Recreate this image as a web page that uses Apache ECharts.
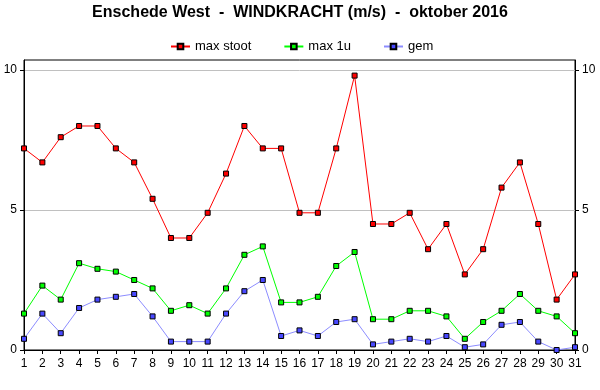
<!DOCTYPE html>
<html><head><meta charset="utf-8">
<script src="https://cdn.jsdelivr.net/npm/echarts@6/dist/echarts.min.js"></script>
<style>html,body{margin:0;padding:0;background:#fff}#c{width:600px;height:390px}</style>
</head><body><div id="c"></div>
<script>
var days = ["1","2","3","4","5","6","7","8","9","10","11","12","13","14","15","16","17","18","19","20","21","22","23","24","25","26","27","28","29","30","31"];
var maxStoot = [7.2,6.7,7.6,8.0,8.0,7.2,6.7,5.4,4.0,4.0,4.9,6.3,8.0,7.2,7.2,4.9,4.9,7.2,9.8,4.5,4.5,4.9,3.6,4.5,2.7,3.6,5.8,6.7,4.5,1.8,2.7];
var max1u = [1.3,2.3,1.8,3.1,2.9,2.8,2.5,2.2,1.4,1.6,1.3,2.2,3.4,3.7,1.7,1.7,1.9,3.0,3.5,1.1,1.1,1.4,1.4,1.2,0.4,1.0,1.4,2.0,1.4,1.2,0.6];
var gem = [0.4,1.3,0.6,1.5,1.8,1.9,2.0,1.2,0.3,0.3,0.3,1.3,2.1,2.5,0.5,0.7,0.5,1.0,1.1,0.2,0.3,0.4,0.3,0.5,0.1,0.2,0.9,1.0,0.3,0.0,0.1];
var yTicks = [0,5,10];
var titleText = "Enschede West  -  WINDKRACHT (m/s)  -  oktober 2016";

var chart = echarts.init(document.getElementById('c'), null, {renderer:'canvas'});
var font = 'Liberation Sans, Arial, sans-serif';
function yAx(pos){
  return {
    type:'value', position:pos, min:0, max:10.357, interval:5,
    axisLine:{show:true, lineStyle:{color:'#000', width:1}},
    axisTick:{show:true, length:4, lineStyle:{color:'#000'}, customValues: yTicks},
    axisLabel:{color:'#000', fontFamily:font, fontSize:12, margin:7, customValues: yTicks},
    splitLine:{show: pos==='left', lineStyle:{color:'#c0c0c0', width:1}}
  };
}
function ser(name, data, line, fill){
  return {
    name:name, type:'line', data:data, yAxisIndex:0,
    symbol:'rect', symbolSize:5, showAllSymbol:true,
    lineStyle:{color:line, width:1},
    itemStyle:{color:fill, borderColor:'#000', borderWidth:1},
    emphasis:{disabled:true}, animation:false
  };
}
chart.setOption({
  animation:false,
  backgroundColor:'#fff',
  title:{text:titleText, left:'center', top:0, textStyle:{fontFamily:font, fontSize:16, fontWeight:'bold', color:'#000'}},
  legend:{top:35, left:165, itemWidth:19, itemHeight:7, itemGap:32,
    textStyle:{fontFamily:font, fontSize:13, color:'#000'},
    data:['max stoot','max 1u','gem']},
  grid:{left:24, right:25, top:60, bottom:40, show:true, borderColor:'#000', borderWidth:1, containLabel:false},
  xAxis:{type:'category', data:days, boundaryGap:false,
    axisLine:{lineStyle:{color:'#000'}},
    axisTick:{show:true, length:4, lineStyle:{color:'#000'}},
    axisLabel:{interval:0, color:'#000', fontFamily:font, fontSize:12, margin:8},
    splitLine:{show:false}},
  yAxis:[yAx('left'), yAx('right')],
  series:[
    ser('max stoot', maxStoot, '#ff0000', '#ff0000'),
    ser('max 1u', max1u, '#00ff00', '#00ff00'),
    ser('gem', gem, '#8c8cff', '#4848ff')
  ]
});
</script></body></html>
